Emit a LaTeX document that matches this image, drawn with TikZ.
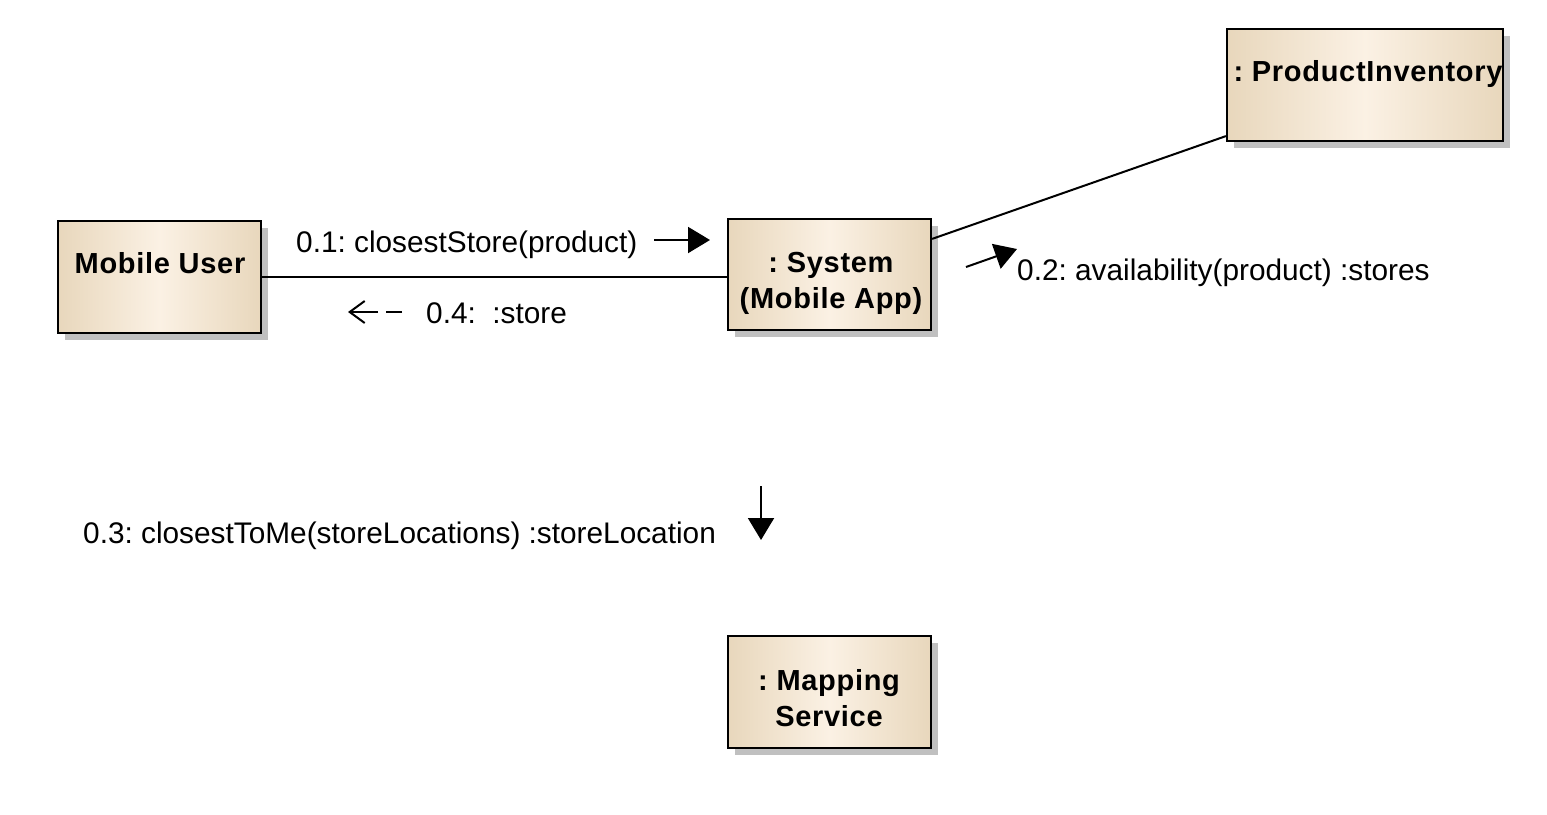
\documentclass[tikz,border=0pt]{standalone}
\usepackage{fontspec}
\setmainfont{Liberation Sans}
\newfontfamily\boxfont{Liberation Sans}[LetterSpace=2.4]
\usetikzlibrary{arrows.meta,calc}
\definecolor{tanedge}{RGB}{232,215,188}
\definecolor{creammid}{RGB}{251,241,228}
\definecolor{shadowgray}{RGB}{192,192,192}
\tikzset{
  objbox/.style={draw=black, line width=2.2pt, left color=tanedge, right color=tanedge, middle color=creammid, inner sep=0pt},
  objshadow/.style={fill=shadowgray, draw=none},
  objtext/.style={font=\fontsize{29}{36}\selectfont\boxfont\bfseries, inner sep=0pt, align=center, anchor=base},
  msgtext/.style={font=\fontsize{29.8}{36}\selectfont, inner sep=0pt, anchor=base west},
  link/.style={line width=2pt},
  msgarrow/.style={line width=2pt, -{Triangle[length=22pt,width=26pt]}},
}
\newcommand{\objnode}[5]{% name, x1, y1, x2, y2
  \fill[objshadow] (#2+7,#3+7) rectangle (#4+7,#5+7);
  \node[objbox, minimum width=#4-#2, minimum height=#5-#3] (#1) at ({(#2+#4)/2},{(#3+#5)/2}) {};
}
\frenchspacing
\begin{document}
\frenchspacing
\begin{tikzpicture}[x=1pt,y=-1pt]
\useasboundingbox (0,0) rectangle (1547,814);
\objnode{mu}{58}{221}{261}{333}
\objnode{sys}{728}{219}{931}{330}
\objnode{pi}{1227}{29}{1503}{141}
\objnode{map}{728}{636}{931}{748}
\node[objtext] (mut) at (160,273) {Mobile User};
\node[objtext] (syst) at (831,308) {: System\\(Mobile App)};
\node[objtext] (pit) at (1368,81) {: ProductInventory};
\node[objtext] (mapt) at (829,726) {: Mapping\\Service};
% links
\draw[link] (mu.east) -- (mu.east -| sys.west);
\draw[link] ($(sys.north east)+(0,21)$) -- ($(pi.south west)+(0,-6)$);
\draw[link] ($(sys.south)+(-7,0)$) -- ($(sys.south)+(-7,0)$ |- map.north);
% messages
\node[msgtext] (m1) at (296,252) {0.1: closestStore(product)};
\coordinate (a1s) at (654,240);
\coordinate (a1e) at (710,240);
\draw[msgarrow] (a1s) -- (a1e);
\node[msgtext] (m4) at (426,323) {0.4:\ \ :store};
\coordinate (a4s) at (402,312);
\coordinate (a4e) at (348,312);
\draw[line width=2pt, dash pattern=on 16pt off 8pt on 60pt, -{Straight Barb[length=15pt,width=22pt,line width=2pt]}] (a4s) -- (a4e);
\node[msgtext] (m2) at (1017,280) {0.2: availability(product) :stores};
\coordinate (a2s) at (966,267);
\coordinate (a2e) at (1017,249);
\draw[msgarrow] (a2s) -- (a2e);
\node[msgtext] (m3) at (83,543) {0.3: closestToMe(storeLocations) :storeLocation};
\coordinate (a3s) at (761,486);
\coordinate (a3e) at (761,540);
\draw[msgarrow] (a3s) -- (a3e);
\end{tikzpicture}
\end{document}
